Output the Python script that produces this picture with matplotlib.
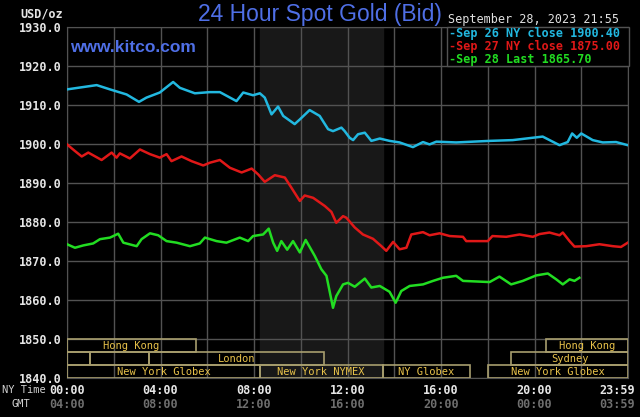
import matplotlib
matplotlib.use("Agg")
import matplotlib.pyplot as plt
from matplotlib.patches import Rectangle
import matplotlib.transforms as mtransforms

# ---------------- data ----------------
sep26_hours = [0.0, 1.27, 1.84, 2.55, 3.08, 3.4, 3.97, 4.54, 4.83, 5.47, 6.11, 6.54, 7.25, 7.54,
               7.96, 8.25, 8.46, 8.75, 9.03, 9.25, 9.74, 9.96, 10.38, 10.81, 11.17, 11.38, 11.74,
               11.88, 12.09, 12.24, 12.45, 12.74, 13.02, 13.38, 13.8, 14.23, 14.8, 15.23, 15.51,
               15.8, 16.65, 17.36, 18.08, 19.07, 20.35, 21.07, 21.42, 21.61, 21.81, 22.0, 22.49,
               22.92, 23.49, 23.99]
sep26_values = [1914.0, 1915.1, 1914.0, 1912.7, 1910.8, 1911.9, 1913.2, 1915.9, 1914.4, 1913.0,
                1913.3, 1913.3, 1911.0, 1913.2, 1912.5, 1913.0, 1911.9, 1907.6, 1909.6, 1907.2,
                1905.1, 1906.3, 1908.7, 1907.2, 1903.8, 1903.3, 1904.2, 1903.3, 1901.6, 1901.0,
                1902.5, 1902.9, 1900.8, 1901.4, 1900.8, 1900.4, 1899.2, 1900.5, 1899.9, 1900.6,
                1900.4, 1900.6, 1900.8, 1901.0, 1901.9, 1899.7, 1900.5, 1902.7, 1901.6, 1902.7,
                1901.0, 1900.4, 1900.5, 1899.7]

sep27_hours = [0.0, 0.34, 0.63, 0.91, 1.48, 1.91, 2.12, 2.26, 2.69, 3.12, 3.55, 3.97, 4.26, 4.47,
               4.9, 5.33, 5.83, 6.11, 6.54, 6.97, 7.47, 7.9, 8.18, 8.46, 8.89, 9.32, 9.6, 9.96,
               10.17, 10.53, 11.03, 11.31, 11.52, 11.81, 11.95, 12.31, 12.66, 13.09, 13.45, 13.66,
               13.95, 14.23, 14.52, 14.73, 15.23, 15.51, 15.94, 16.37, 16.94, 17.08, 18.0, 18.2,
               18.79, 19.36, 19.93, 20.21, 20.64, 21.07, 21.21, 21.5, 21.71, 22.21, 22.78, 23.35,
               23.7, 23.99]
sep27_values = [1899.9, 1898.2, 1896.8, 1897.8, 1895.9, 1897.8, 1896.5, 1897.6, 1896.3, 1898.6,
                1897.4, 1896.5, 1897.4, 1895.6, 1896.8, 1895.6, 1894.5, 1895.2, 1895.9, 1893.9,
                1892.7, 1893.7, 1892.2, 1890.3, 1892.0, 1891.4, 1888.8, 1885.4, 1886.8, 1886.2,
                1884.1, 1882.6, 1879.8, 1881.5, 1881.1, 1878.6, 1876.8, 1875.7, 1873.8, 1872.6,
                1874.9, 1873.0, 1873.4, 1876.8, 1877.4, 1876.6, 1877.1, 1876.4, 1876.2, 1875.1,
                1875.1, 1876.4, 1876.2, 1876.8, 1876.2, 1876.9, 1877.3, 1876.6, 1877.3, 1875.1,
                1873.7, 1873.8, 1874.3, 1873.8, 1873.6, 1874.7]

sep28_hours = [0.0, 0.34, 0.7, 1.12, 1.41, 1.84, 2.19, 2.41, 2.98, 3.19, 3.55, 3.9, 4.26, 4.69,
               5.26, 5.68, 5.9, 6.4, 6.82, 7.39, 7.75, 7.96, 8.39, 8.63, 8.82, 8.99, 9.17, 9.42,
               9.67, 9.96, 10.21, 10.6, 10.88, 11.1, 11.38, 11.52, 11.81, 12.02, 12.31, 12.74,
               13.02, 13.38, 13.8, 14.06, 14.3, 14.66, 15.23, 15.66, 16.08, 16.65, 16.94, 18.08,
               18.5, 19.0, 19.5, 20.07, 20.57, 20.93, 21.21, 21.5, 21.71, 21.92]
sep28_values = [1874.3, 1873.4, 1874.0, 1874.5, 1875.6, 1876.0, 1877.0, 1874.7, 1873.8, 1875.6,
                1877.1, 1876.6, 1875.1, 1874.7, 1873.8, 1874.5, 1876.0, 1875.1, 1874.7, 1876.0,
                1875.1, 1876.4, 1876.8, 1878.3, 1874.7, 1872.6, 1875.1, 1872.9, 1875.1, 1872.2,
                1875.4, 1871.3, 1867.9, 1866.2, 1858.0, 1861.0, 1864.0, 1864.4, 1863.4, 1865.5,
                1863.2, 1863.6, 1862.1, 1859.3, 1862.3, 1863.6, 1864.0, 1864.9, 1865.7, 1866.2,
                1864.9, 1864.6, 1866.0, 1864.0, 1864.9, 1866.3, 1866.8, 1865.3, 1864.0, 1865.3,
                1864.9, 1865.7]

legend_labels = ["Sep 26 NY close 1900.40", "Sep 27 NY close 1875.00", "Sep 28 Last 1865.70"]
y_ticks = [1840, 1850, 1860, 1870, 1880, 1890, 1900, 1910, 1920, 1930]
x_tick_hours = [0, 4, 8, 12, 16, 20, 23.983]
ny_labels = ["00:00", "04:00", "08:00", "12:00", "16:00", "20:00", "23:59"]
gmt_labels = ["04:00", "08:00", "12:00", "16:00", "20:00", "00:00", "03:59"]

# sessions: (row, start, end, label)
sessions = [
    (0, 0.0, 5.5, "Hong Kong"), (0, 20.5, 24.0, "Hong Kong"),
    (1, 0.0, 1.0, ""), (1, 1.0, 3.5, ""), (1, 3.5, 11.0, "London"), (1, 19.0, 24.0, "Sydney"),
    (2, 0.0, 8.25, "New York Globex"), (2, 8.25, 13.5, "New York NYMEX"),
    (2, 13.5, 17.25, "NY Globex"), (2, 18.0, 24.0, "New York Globex"),
]
nymex_span = (8.25, 13.5)

# ---------------- style ----------------
C_CYAN = "#22b8e0"
C_RED = "#e01818"
C_GREEN = "#22dd22"
C_BLUE = "#4f6fe6"
C_GRID = "#525252"
C_SESS_EDGE = "#a89e6e"
C_SESS_TEXT = "#e8c24a"
MONO = "DejaVu Sans Mono"

fig = plt.figure(figsize=(6.4, 4.17), dpi=100, facecolor="black")
ax = fig.add_axes([67 / 640, 1 - 378 / 417, (628 - 67) / 640, (378 - 27) / 417])
ax.set_facecolor("black")
ax.set_xlim(0, 24)
ax.set_ylim(1840, 1930)

ax.axvspan(*nymex_span, color="#181818", zorder=0)

ax.set_xticks(range(0, 25, 2))
ax.set_yticks(y_ticks)
ax.grid(True, color=C_GRID, linewidth=1.0, zorder=1)
ax.tick_params(length=0, labelbottom=False)
ax.set_yticklabels([f"{v:.1f}" for v in y_ticks], fontfamily=MONO, fontsize=8.5,
                   fontweight="bold", color="#e6e6e6")
ax.tick_params(axis="y", pad=4)
for s in ax.spines.values():
    s.set_color(C_GRID)

ax.plot(sep26_hours, sep26_values, color=C_CYAN, lw=1.8, zorder=4)
ax.plot(sep27_hours, sep27_values, color=C_RED, lw=1.8, zorder=4)
ax.plot(sep28_hours, sep28_values, color=C_GREEN, lw=1.8, zorder=4)

# session bars
row_h = 10.0 / 3
for row, s, e, lab in sessions:
    top = 1850 - row * row_h
    ax.add_patch(Rectangle((s, top - row_h), e - s, row_h, fill=False,
                           edgecolor=C_SESS_EDGE, lw=1.2, zorder=3))
    if lab:
        ax.text((s + e) / 2, top - row_h / 2, lab, ha="center", va="center",
                fontfamily=MONO, fontsize=7.5, color=C_SESS_TEXT, zorder=5)

# x labels
trans = mtransforms.blended_transform_factory(ax.transData, fig.transFigure)
for i, (h, a, b) in enumerate(zip(x_tick_hours, ny_labels, gmt_labels)):
    last = i == len(x_tick_hours) - 1
    xpos = 635 / 640 if last else h
    tr = fig.transFigure if last else trans
    ha = "right" if last else "center"
    ax.text(xpos, 1 - 390 / 417, a, transform=tr, ha=ha, va="center",
            fontfamily=MONO, fontsize=8.5, fontweight="bold", color="#e6e6e6")
    ax.text(xpos, 1 - 404 / 417, b, transform=tr, ha=ha, va="center",
            fontfamily=MONO, fontsize=8.5, fontweight="bold", color="#6e6e6e")
fig.text(2 / 640, 1 - 390 / 417, "NY Time", ha="left", va="center",
         fontfamily=MONO, fontsize=7.5, color="#d0d0d0")
fig.text(12 / 640, 1 - 404 / 417, "GMT", ha="left", va="center",
         fontfamily=MONO, fontsize=7.5, color="#d0d0d0")

# titles
fig.text(20 / 640, 1 - 14 / 417, "USD/oz", ha="left", va="center",
         fontfamily=MONO, fontsize=8.5, fontweight="bold", color="#e6e6e6")
fig.text(320 / 640, 1 - 15 / 417, "24 Hour Spot Gold (Bid)", ha="center", va="center",
         fontfamily="Liberation Sans", fontsize=16.5, color=C_BLUE)
fig.text(70 / 640, 1 - 48 / 417, "www.kitco.com", ha="left", va="center",
         fontfamily="Liberation Sans", fontsize=12.5, fontweight="bold", color=C_BLUE)
fig.text(448 / 640, 1 - 20 / 417, "September 28, 2023 21:55", ha="left", va="center",
         fontfamily=MONO, fontsize=8.5, color="#e0e0e0")

# legend box
leg = Rectangle((447 / 640, 1 - 66 / 417), (629 - 447) / 640, 39 / 417,
                transform=fig.transFigure, facecolor="black", edgecolor=C_GRID,
                lw=1, zorder=10)
fig.add_artist(leg)
for i, (lab, c) in enumerate(zip(legend_labels, [C_CYAN, C_RED, C_GREEN])):
    fig.text(449 / 640, 1 - (34 + 12.5 * i) / 417, "-" + lab, ha="left", va="center",
             fontfamily=MONO, fontsize=8.5, fontweight="bold", color=c, zorder=11)

fig.savefig("out.png", dpi=100, facecolor="black")
